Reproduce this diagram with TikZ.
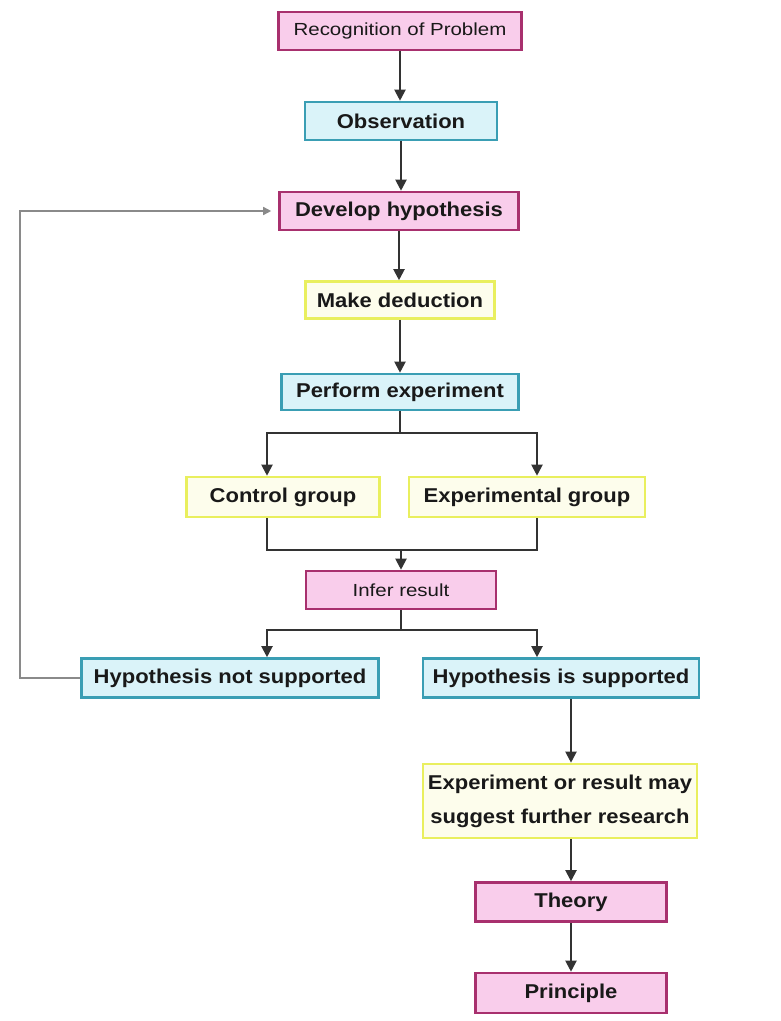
\documentclass[tikz,border=0pt]{standalone}
\usepackage{fontspec}
\setmainfont{Liberation Sans}
\newfontfamily\boldf[FakeStretch=1.1]{Liberation Sans Bold}
\newfontfamily\regf[FakeStretch=1.17]{Liberation Sans}
\usetikzlibrary{arrows.meta}
\definecolor{pinkB}{HTML}{A8306E}
\definecolor{pinkF}{HTML}{F9CDEB}
\definecolor{cyanB}{HTML}{3A9EB4}
\definecolor{cyanF}{HTML}{DAF3F9}
\definecolor{yelB}{HTML}{E9EF5E}
\definecolor{yelF}{HTML}{FDFDEC}
\definecolor{lineC}{HTML}{333333}
\definecolor{fbC}{HTML}{8A8A8A}
\tikzset{
  box/.style={draw, line width=2.6pt, inner sep=0pt, align=center, text=black!90},
  pinkbox/.style={box, draw=pinkB, fill=pinkF},
  cyanbox/.style={box, draw=cyanB, fill=cyanF},
  yelbox/.style={box, draw=yelB, fill=yelF},
  bt/.style={font=\boldf\fontsize{20}{34}\selectfont},
  rt/.style={font=\regf\fontsize{17.5}{22}\selectfont},
  arr/.style={draw=lineC, line width=2pt, -{Triangle[length=11pt,width=11pt]}},
  ln/.style={draw=lineC, line width=2pt},
  fb/.style={draw=fbC, line width=1.5pt, -{Triangle[length=8pt,width=8pt]}}
}
\begin{document}
\begin{tikzpicture}[x=1pt,y=-1pt]
\useasboundingbox (0,0) rectangle (780,1021);
\node[pinkbox, rt, minimum width=243, minimum height=38] (rec) at (400,31) {Recognition of Problem};
\node[cyanbox, bt, minimum width=192, minimum height=38] (obs) at (401,121) {Observation};
\node[pinkbox, bt, minimum width=239, minimum height=38] (dev) at (399,211) {Develop hypothesis};
\node[yelbox, bt, minimum width=189, minimum height=37] (ded) at (400,300) {Make deduction};
\node[cyanbox, bt, minimum width=237, minimum height=36] (per) at (400,392) {Perform experiment};
\node[yelbox, bt, minimum width=193, minimum height=40] (con) at (283,497) {Control group};
\node[yelbox, bt, minimum width=236, minimum height=40] (exg) at (527,497) {Experimental group};
\node[pinkbox, rt, minimum width=190, minimum height=38] (inf) at (401,590) {Infer result};
\node[cyanbox, bt, minimum width=297, minimum height=39] (hns) at (230,678) {Hypothesis not supported};
\node[cyanbox, bt, minimum width=276, minimum height=39] (his) at (561,678) {Hypothesis is supported};
\node[yelbox, bt, minimum width=274, minimum height=74] (fur) at (560,801) {Experiment or result may\\suggest further research};
\node[pinkbox, bt, minimum width=191, minimum height=39] (the) at (571,902) {Theory};
\node[pinkbox, bt, minimum width=191, minimum height=40] (pri) at (571,993) {Principle};
% junction coordinates
\coordinate (j1) at (400,433);
\coordinate (j1l) at (267,433);
\coordinate (j1r) at (537,433);
\coordinate (m1l) at (267,550);
\coordinate (m1r) at (537,550);
\coordinate (m1) at (401,550);
\coordinate (j2) at (401,630);
\coordinate (j2l) at (267,630);
\coordinate (j2r) at (537,630);
\coordinate (fb1) at (20,678);
\coordinate (fb2) at (20,211);
% arrows
\draw[arr] (rec.south) -- (rec.south |- obs.north);
\draw[arr] (obs.south) -- (obs.south |- dev.north);
\draw[arr] (dev.south) -- (dev.south |- ded.north);
\draw[arr] (ded.south) -- (ded.south |- per.north);
\draw[ln] (per.south) -- (j1);
\draw[arr] (j1) -- (j1l) -- (con.north -| j1l);
\draw[arr] (j1) -- (j1r) -- (exg.north -| j1r);
\draw[ln] (con.south -| m1l) -- (m1l) -- (m1r) -- (exg.south -| m1r);
\draw[arr] (m1) -- (inf);
\draw[ln] (inf.south) -- (j2);
\draw[arr] (j2) -- (j2l) -- (hns.north -| j2l);
\draw[arr] (j2) -- (j2r) -- (his.north -| j2r);
\draw[arr] (his.south -| the) -- (fur.north -| the);
\draw[arr] (fur.south -| the) -- (the);
\draw[arr] (the) -- (pri);
\draw[fb] (hns.west) -- (fb1) -- (fb2) -- ([xshift=-7pt]dev.west);
\end{tikzpicture}
\end{document}
